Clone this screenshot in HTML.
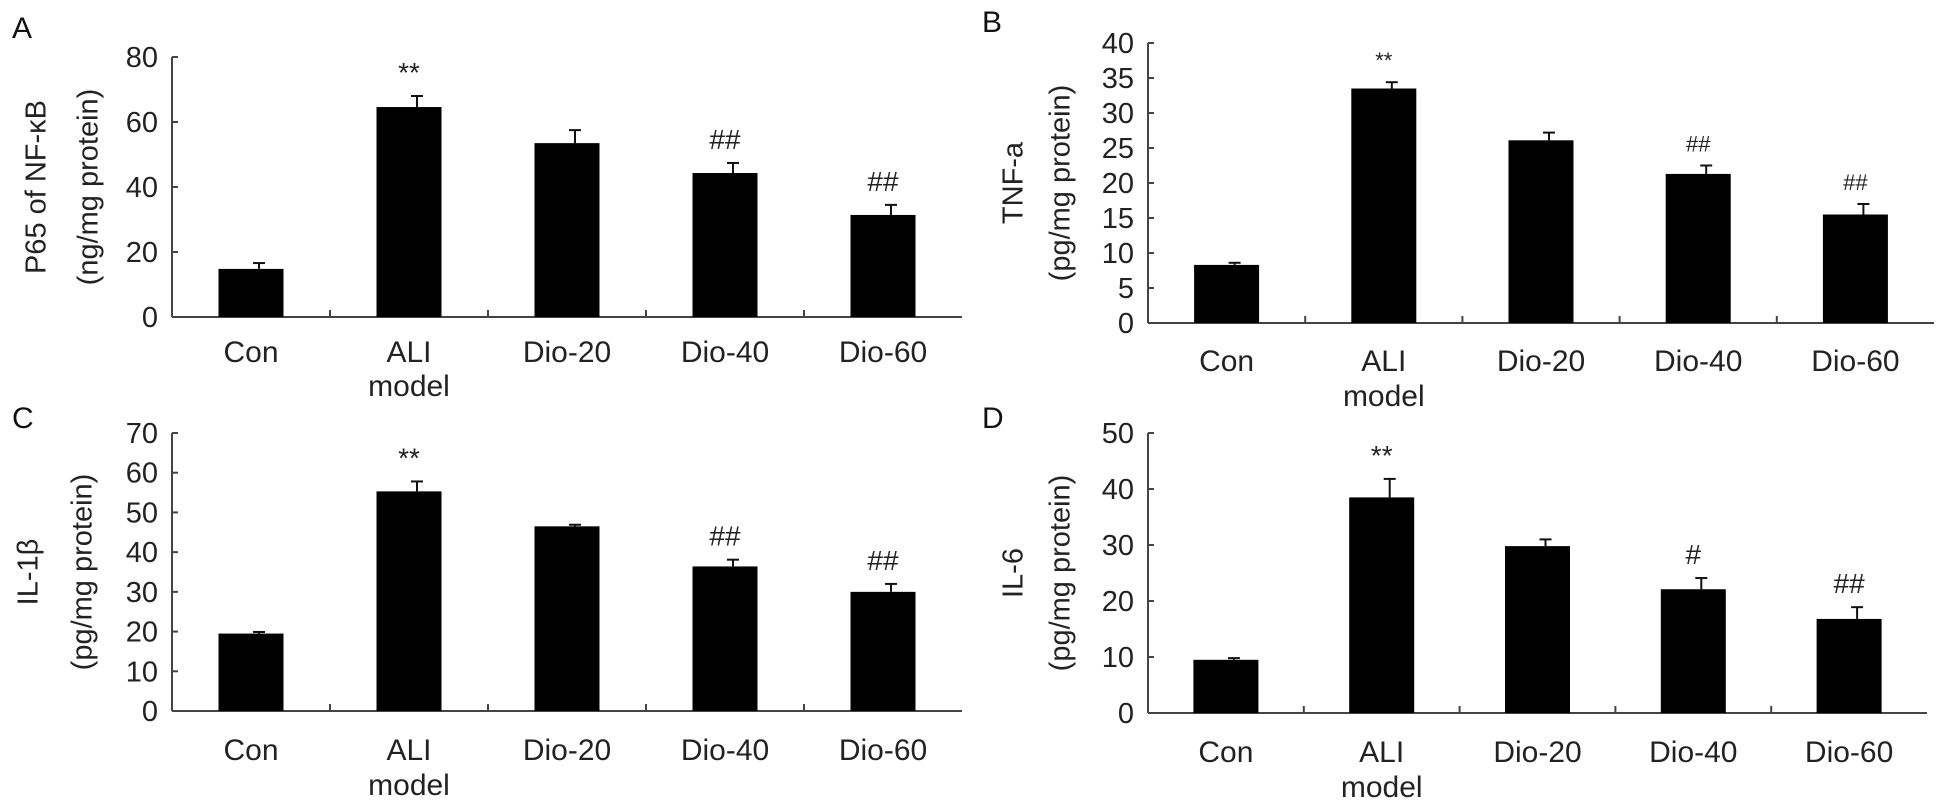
<!DOCTYPE html>
<html><head><meta charset="utf-8">
<style>
html,body{margin:0;padding:0;background:#fff;}
svg{display:block;font-family:"Liberation Sans",Arial,sans-serif;}
</style></head>
<body>
<svg id="fig" width="1938" height="801" viewBox="0 0 1938 801" xmlns="http://www.w3.org/2000/svg"></svg>
<script>
const categories = ["Con","ALI|model","Dio-20","Dio-40","Dio-60"];
const valuesA = [14.8, 64.6, 53.5, 44.3, 31.4];
const errorsA = [16.6, 68.0, 57.5, 47.4, 34.5];
const marksA = ["", "**", "", "##", "##"];
const ticksA = [0, 20, 40, 60, 80];
const valuesB = [8.3, 33.5, 26.1, 21.3, 15.5];
const errorsB = [8.6, 34.4, 27.2, 22.5, 17.0];
const marksB = ["", "**", "", "##", "##"];
const ticksB = [0, 5, 10, 15, 20, 25, 30, 35, 40];
const valuesC = [19.5, 55.3, 46.5, 36.4, 30.0];
const errorsC = [19.9, 57.8, 46.9, 38.1, 32.0];
const marksC = ["", "**", "", "##", "##"];
const ticksC = [0, 10, 20, 30, 40, 50, 60, 70];
const valuesD = [9.5, 38.5, 29.8, 22.1, 16.8];
const errorsD = [9.8, 41.8, 31.0, 24.1, 18.9];
const marksD = ["", "**", "", "#", "##"];
const ticksD = [0, 10, 20, 30, 40, 50];

const NS = "http://www.w3.org/2000/svg";
const svg = document.getElementById("fig");
function mk(tag, attrs, parent, text) {
  const e = document.createElementNS(NS, tag);
  for (const k in attrs) e.setAttribute(k, attrs[k]);
  if (text !== undefined) e.textContent = text;
  (parent || svg).appendChild(e);
  return e;
}

const panels = [
  {id:"a", letter:"A", lx:12, ly:38, x0:172, x1:962, y0:317, y1:57, vals:valuesA, errs:errorsA, marks:marksA, ticks:ticksA, markFont:28,
   t1:"P65 of NF-\u03BAB", t2:"(ng/mg protein)", tx1:38, tx2:90, catY:352, modelY:386},
  {id:"b", letter:"B", lx:982, ly:32, x0:1148, x1:1934, y0:323, y1:43, vals:valuesB, errs:errorsB, marks:marksB, ticks:ticksB, markFont:22,
   t1:"TNF-a", t2:"(pg/mg protein)", tx1:1015, tx2:1062, catY:361, modelY:396},
  {id:"c", letter:"C", lx:12, ly:428, x0:172, x1:962, y0:711, y1:433, vals:valuesC, errs:errorsC, marks:marksC, ticks:ticksC, markFont:28,
   t1:"IL-1\u03B2", t2:"(pg/mg protein)", tx1:30, tx2:84, catY:750, modelY:785},
  {id:"d", letter:"D", lx:982, ly:428, x0:1148, x1:1927, y0:713, y1:433, vals:valuesD, errs:errorsD, marks:marksD, ticks:ticksD, markFont:28,
   t1:"IL-6", t2:"(pg/mg protein)", tx1:1015, tx2:1062, catY:752, modelY:787}
];

panels.forEach(p => {
  const g = mk("g", {});
  
  
  const maxT = p.ticks[p.ticks.length - 1];
  const yS = v => p.y0 - (v / maxT) * (p.y0 - p.y1);
  const cw = (p.x1 - p.x0) / categories.length;
  const xC = i => p.x0 + cw * (i + 0.5);
  const bw = 65;

  const L = mk("text", {x:p.lx, y:p.ly, "font-size":30, fill:"#111"}, g, p.letter);
  
  

  // axes
  const ya = mk("line", {x1:p.x0, y1:p.y1, x2:p.x0, y2:p.y0, stroke:"#444", "stroke-width":2}, g);
  
  
  const xa = mk("line", {x1:p.x0, y1:p.y0, x2:p.x1, y2:p.y0, stroke:"#444", "stroke-width":2}, g);
  
  

  p.ticks.forEach(t => {
    const y = yS(t);
    mk("line", {x1:p.x0, y1:y, x2:p.x0 + 6, y2:y, stroke:"#444", "stroke-width":2}, g);
    const tl = mk("text", {x:p.x0 - 14, y:y + 10, "font-size":29, "text-anchor":"end", fill:"#222"}, g, String(t));
    
    
  });
  for (let i = 1; i < categories.length; i++) {
    const x = p.x0 + cw * i;
    mk("line", {x1:x, y1:p.y0, x2:x, y2:p.y0 - 7, stroke:"#444", "stroke-width":2}, g);
  }

  // y title
  const cy = (p.y0 + p.y1) / 2;
  const t1 = mk("text", {x:p.tx1, y:cy, "font-size":29, "text-anchor":"middle", fill:"#222",
    transform:`rotate(-90 ${p.tx1} ${cy})`, "dominant-baseline":"middle"}, g, p.t1);
  
  
  const t2 = mk("text", {x:p.tx2, y:cy, "font-size":29, "text-anchor":"middle", fill:"#222",
    transform:`rotate(-90 ${p.tx2} ${cy})`, "dominant-baseline":"middle"}, g, p.t2);
  
  

  p.vals.forEach((v, i) => {
    const x = xC(i);
    const top = yS(v), et = yS(p.errs[i]);
    const e1 = mk("line", {x1:x + 8, y1:top, x2:x + 8, y2:et, stroke:"#111", "stroke-width":2}, g);
    
    
    mk("line", {x1:x + 2, y1:et, x2:x + 14, y2:et, stroke:"#111", "stroke-width":2}, g);
    const r = mk("rect", {x:x - bw / 2, y:top, width:bw, height:p.y0 - top, fill:"#000"}, g);
    
    
    if (p.marks[i]) {
      const m = mk("text", {x:x, y:et - 14, "font-size":p.markFont, "text-anchor":"middle", fill:"#222"}, g, p.marks[i]);
      
      
    }
    const parts = categories[i].split('|');
    const c = mk("text", {x:x, y:p.catY + 10, "font-size":30, "text-anchor":"middle", fill:"#222"}, g, parts[0]);
    
    
    if (parts[1]) {
      const c2 = mk("text", {x:x, y:p.modelY + 10, "font-size":30, "text-anchor":"middle", fill:"#222"}, g, parts[1]);
      
      
    }
  });
});
</script>
</body></html>
